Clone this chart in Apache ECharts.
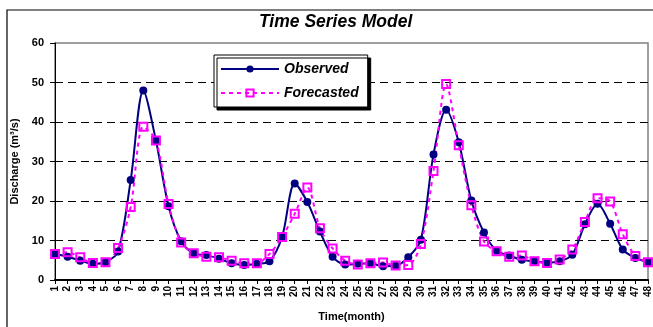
<!DOCTYPE html>
<html>
  <head>
    <meta charset="utf-8" />
    <title>Time Series Model</title>
    <script src="https://cdn.jsdelivr.net/npm/echarts@6.0.0/dist/echarts.min.js"></script>
    <style>
      body { margin: 0; background: #fff; }
      #chart { width: 653px; height: 327px; }
    </style>
  </head>
  <body>
    <div id="chart"></div>
    <script>
      const months = [];
      for (let m = 1; m <= 48; m++) months.push(String(m));

      const observed = [
        6.6, 5.9, 4.9, 4.1, 4.5, 7.2, 25.3, 48, 35.3, 18.7,
        9.8, 6.75, 6.3, 5.4, 4.25, 3.8, 4.1, 4.75, 10.9, 24.4,
        19.75, 12.25, 5.9, 3.9, 4.1, 4.25, 3.5, 3.6, 5.75, 10.2,
        31.8, 43.1, 34.9, 20.1, 12, 7.4, 6.2, 5.1, 4.75, 4.4,
        4.75, 6.4, 14.1, 19.3, 14.25, 7.7, 5.6, 4.5
      ];

      const forecasted = [
        6.6, 7.0, 5.75, 4.3, 4.5, 8.1, 18.5, 38.8, 35.3, 19.25,
        9.5, 6.75, 5.9, 5.75, 4.9, 4.25, 4.25, 6.6, 10.9, 16.75,
        23.4, 13.1, 8, 4.9, 3.9, 4.25, 4.4, 3.7, 3.8, 9.1,
        27.6, 49.6, 34.1, 18.9, 9.75, 7.25, 5.9, 6.2, 4.75, 4.3,
        5.2, 7.7, 14.7, 20.7, 19.9, 11.6, 6.1, 4.5
      ];

      const font = 'Liberation Sans, Arial, sans-serif';

      const chart = echarts.init(document.getElementById('chart'));
      chart.setOption({
        animation: false,
        backgroundColor: '#fff',
        textStyle: { fontFamily: font },
        title: {
          text: 'Time Series Model',
          left: 259,
          top: 13,
          padding: 0,
          textStyle: { fontSize: 17.5, fontWeight: 'bold', fontStyle: 'italic', color: '#000', fontFamily: font }
        },
        graphic: [{
          type: 'rect',
          shape: { x: 7, y: 10, width: 700, height: 400 },
          style: { fill: 'none', stroke: '#000', lineWidth: 1.2 },
          silent: true
        }],
        legend: {
          orient: 'vertical',
          left: 214,
          top: 55,
          padding: [6, 9, 6, 6],
          itemWidth: 58,
          itemHeight: 9,
          itemGap: 8,
          backgroundColor: '#fff',
          borderColor: '#000',
          borderWidth: 1,
          shadowColor: '#000',
          shadowBlur: 0,
          shadowOffsetX: 3,
          shadowOffsetY: 3,
          textStyle: { fontSize: 14, lineHeight: 16, fontWeight: 'bold', fontStyle: 'italic', color: '#000', fontFamily: font }
        },
        grid: {
          left: 55, right: 4, top: 43, bottom: 44,
          show: true,
          borderColor: '#808080',
          borderWidth: 1.5
        },
        xAxis: {
          type: 'category',
          data: months,
          boundaryGap: false,
          name: 'Time(month)',
          nameLocation: 'middle',
          nameGap: 31,
          nameTextStyle: { fontSize: 11, fontWeight: 'bold', color: '#000' },
          axisLine: { lineStyle: { color: '#000', width: 2 } },
          axisTick: { inside: false, length: 4, alignWithLabel: true, interval: 0, lineStyle: { color: '#000' } },
          axisLabel: { interval: 0, rotate: 90, fontSize: 10, fontWeight: 'bold', color: '#000', margin: 6 },
          splitLine: { show: false }
        },
        yAxis: {
          type: 'value',
          min: 0,
          max: 60,
          interval: 10,
          name: 'Discharge (m³/s)',
          nameLocation: 'middle',
          nameGap: 35,
          nameRotate: 90,
          nameTextStyle: { fontSize: 11, fontWeight: 'bold', color: '#000' },
          axisLine: { show: true, lineStyle: { color: '#000', width: 1 } },
          axisTick: { show: true, length: 5, lineStyle: { color: '#000' } },
          axisLabel: { fontSize: 11, fontWeight: 'bold', color: '#000', margin: 11 },
          splitLine: {
            show: true,
            lineStyle: {
              color: ['rgba(0,0,0,0)', '#000', '#000', '#000', '#000', '#000', 'rgba(0,0,0,0)'],
              type: [8, 5],
              width: 1
            }
          }
        },
        series: [
          {
            name: 'Observed',
            type: 'line',
            data: observed,
            smooth: 0.3,
            symbol: 'circle',
            symbolSize: 8,
            itemStyle: { color: '#000080' },
            lineStyle: { color: '#000080', width: 2 }
          },
          {
            name: 'Forecasted',
            type: 'line',
            data: forecasted,
            smooth: 0.3,
            symbol: 'rect',
            symbolSize: 8,
            itemStyle: { color: 'rgba(255,255,255,0)', borderColor: '#ff00ff', borderWidth: 2 },
            lineStyle: { color: '#ff00ff', width: 2, type: [4, 4] }
          }
        ]
      });
    </script>
  </body>
</html>
